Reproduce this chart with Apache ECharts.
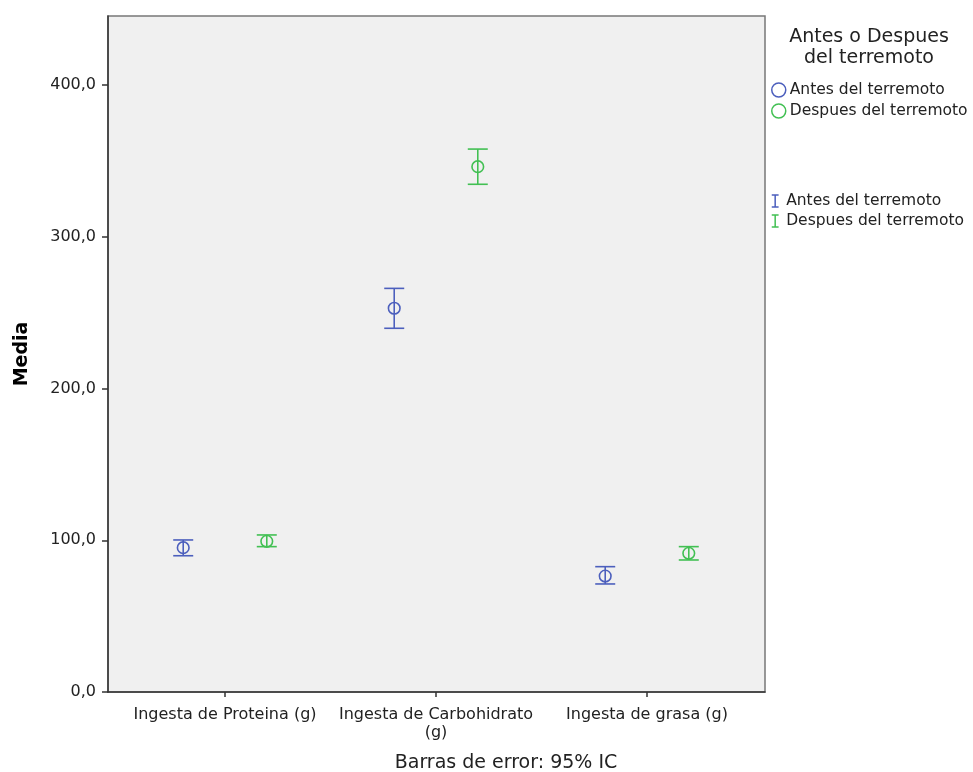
<!DOCTYPE html>
<html>
<head>
<meta charset="utf-8">
<script src="https://cdn.jsdelivr.net/npm/echarts@6/dist/echarts.min.js"></script>
<style>html,body{margin:0;padding:0;background:#fff;}#c{width:973px;height:772px;}</style>
</head>
<body>
<div id="c"></div>
<script>
const categories = ['Ingesta de Proteina (g)', 'Ingesta de Carbohidrato\n(g)', 'Ingesta de grasa (g)'];
const seriesNames = ['Antes del terremoto', 'Despues del terremoto'];
const antesMedia = [95.1, 252.9, 76.4];
const antesLow = [89.8, 239.7, 71.2];
const antesHigh = [100.2, 266.0, 82.6];
const despuesMedia = [99.3, 346.2, 91.4];
const despuesLow = [95.8, 334.6, 87.0];
const despuesHigh = [103.5, 357.8, 95.8];
const yTicks = [0, 100, 200, 300, 400];
const yMax = 445.5;

const BLUE = '#4c5fbd';
const GREEN = '#42c053';
const FONT = 'DejaVu Sans';

function build(means, lows, highs) {
  return means.map((m, i) => [i, m, lows[i], highs[i]]);
}

function makeRender(offset) {
  return function (params, api) {
    const cat = api.value(0);
    const band = api.size([1, 0])[0];
    const pm = api.coord([cat, api.value(1)]);
    const cx = pm[0] + offset * band;
    const cy = pm[1];
    const yl = api.coord([cat, api.value(2)])[1];
    const yh = api.coord([cat, api.value(3)])[1];
    const cap = 10, r = 5.8;
    const color = api.visual('color');
    const st = { stroke: color, lineWidth: 1.6, fill: 'none' };
    return {
      type: 'group',
      children: [
        { type: 'line', shape: { x1: cx, y1: yh, x2: cx, y2: yl }, style: st },
        { type: 'line', shape: { x1: cx - cap, y1: yh, x2: cx + cap, y2: yh }, style: st },
        { type: 'line', shape: { x1: cx - cap, y1: yl, x2: cx + cap, y2: yl }, style: st },
        { type: 'circle', shape: { cx: cx, cy: cy, r: r }, style: st }
      ]
    };
  };
}

const chart = echarts.init(document.getElementById('c'), null, { renderer: 'canvas' });
const barIcon = 'path://M0,0 L8,0 M4,0 L4,14 M0,14 L8,14';
chart.setOption({
  animation: false,
  backgroundColor: '#fff',
  textStyle: { fontFamily: FONT },
  grid: [
    { left: 108, right: 208, top: 16, bottom: 80, show: true, backgroundColor: '#f0f0f0', borderColor: '#777', borderWidth: 1.5, containLabel: false },
    { left: 119.5, right: 220.5, top: 16, bottom: 80, containLabel: false }
  ],
  xAxis: [
    { gridIndex: 0, type: 'value', min: 0, max: 1, axisLine: { show: true, onZero: false, lineStyle: { color: '#333', width: 1.5 } }, axisTick: { show: false }, axisLabel: { show: false }, splitLine: { show: false } },
    { gridIndex: 1, type: 'category', data: categories, axisLine: { show: false }, axisTick: { show: true, alignWithLabel: true, interval: 0, length: 5, lineStyle: { color: '#333', width: 1.5 } }, axisLabel: { interval: 0, fontSize: 16, color: '#222', margin: 14, lineHeight: 18, fontFamily: FONT }, splitLine: { show: false } }
  ],
  yAxis: [
    { gridIndex: 0, type: 'value', min: 0, max: yMax, interval: 100, name: 'Media', nameLocation: 'middle', nameGap: 76, nameTextStyle: { fontSize: 19, fontWeight: 'bold', color: '#000', fontFamily: FONT }, axisLine: { show: true, lineStyle: { color: '#333', width: 1.5 } }, axisTick: { show: true, length: 6, customValues: yTicks, lineStyle: { color: '#333', width: 1.5 } }, axisLabel: { customValues: yTicks, fontSize: 16, color: '#222', margin: 12, fontFamily: FONT, formatter: v => v.toFixed(1).replace('.', ',') }, splitLine: { show: false } },
    { gridIndex: 1, type: 'value', min: 0, max: yMax, show: false, splitLine: { show: false } }
  ],
  legend: [
    {
      left: 766, top: 77, orient: 'vertical', itemWidth: 14, itemHeight: 14, itemGap: 5,
      textStyle: { fontSize: 15.5, color: '#222', fontFamily: FONT, padding: [0, 0, 0, -1] },
      data: [
        { name: seriesNames[0], icon: 'circle', itemStyle: { color: 'rgba(0,0,0,0)', borderColor: BLUE, borderWidth: 1.5 } },
        { name: seriesNames[1], icon: 'circle', itemStyle: { color: 'rgba(0,0,0,0)', borderColor: GREEN, borderWidth: 1.5 } }
      ]
    },
    {
      left: 766, top: 188, orient: 'vertical', itemWidth: 14, itemHeight: 12, itemGap: 4,
      textStyle: { fontSize: 15.5, color: '#222', fontFamily: FONT, padding: [0, 0, 0, -1] },
      data: [
        { name: seriesNames[0], icon: barIcon, itemStyle: { color: 'rgba(0,0,0,0)', borderColor: BLUE, borderWidth: 1.5 } },
        { name: seriesNames[1], icon: barIcon, itemStyle: { color: 'rgba(0,0,0,0)', borderColor: GREEN, borderWidth: 1.5 } }
      ]
    }
  ],
  graphic: [
    { type: 'text', style: { text: 'Antes o Despues\ndel terremoto', fontSize: 19, lineHeight: 21, fill: '#222', align: 'center', fontFamily: FONT, x: 869, y: 27 } },
    { type: 'text', style: { text: 'Barras de error: 95% IC', fontSize: 19, fill: '#222', align: 'center', verticalAlign: 'middle', fontFamily: FONT, x: 506, y: 763 } }
  ],
  series: [
    { name: seriesNames[0], type: 'custom', xAxisIndex: 1, yAxisIndex: 1, itemStyle: { color: BLUE }, renderItem: makeRender(-0.198), data: build(antesMedia, antesLow, antesHigh), encode: { x: 0, y: [1, 2, 3] } },
    { name: seriesNames[1], type: 'custom', xAxisIndex: 1, yAxisIndex: 1, itemStyle: { color: GREEN }, renderItem: makeRender(0.198), data: build(despuesMedia, despuesLow, despuesHigh), encode: { x: 0, y: [1, 2, 3] } }
  ]
});
</script>
</body>
</html>
